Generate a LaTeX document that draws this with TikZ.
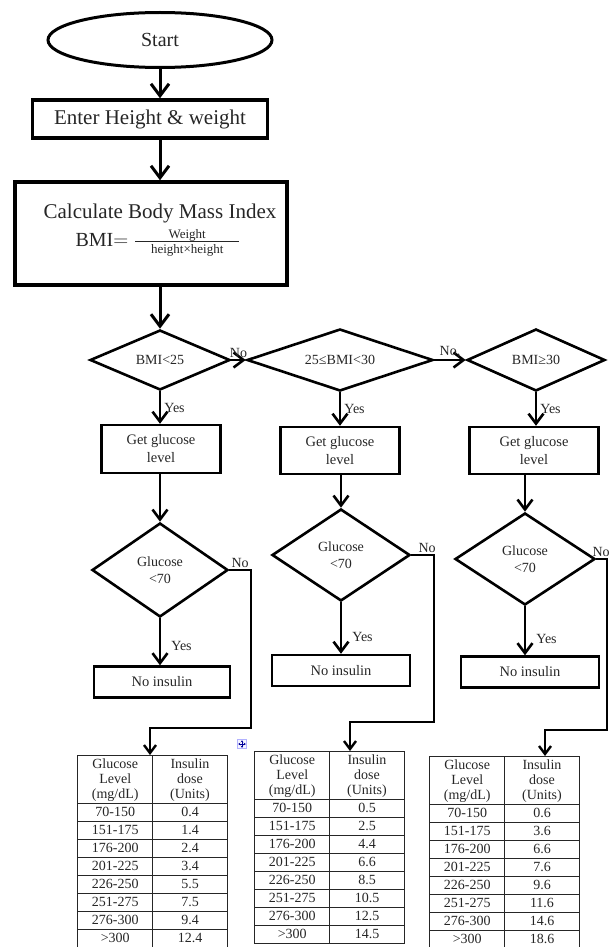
\documentclass[tikz,border=0pt]{standalone}
\usepackage{fontspec}
\setmainfont{Liberation Serif}
\usepackage{array}
\usetikzlibrary{arrows.meta,shapes.geometric}
\newcolumntype{C}{>{\centering\arraybackslash}p{73.6pt}}
\newcommand{\dosetab}[8]{%
  \setlength{\tabcolsep}{0pt}\setlength{\arrayrulewidth}{1.2pt}%
  \renewcommand{\arraystretch}{1.12}%
  \begin{tabular}{|C|C|}\hline
    Glucose\par Level\par (mg/dL) & Insulin\par dose\par (Units)\\\hline
    70-150  & #1\\\hline
    151-175 & #2\\\hline
    176-200 & #3\\\hline
    201-225 & #4\\\hline
    226-250 & #5\\\hline
    251-275 & #6\\\hline
    276-300 & #7\\\hline
    >300    & #8\\\hline
  \end{tabular}}
\tikzset{
  bigflow/.style={line width=3pt,-{Straight Barb[length=12pt,width=18pt]}},
  flow/.style={line width=2.6pt,-{Straight Barb[length=10pt,width=15pt]}},
  tabflow/.style={line width=2.4pt,line join=miter,-{Straight Barb[length=8pt,width=12pt]}},
  terminal/.style={draw,ellipse,line width=3pt,inner sep=0pt,font=\fontsize{20}{22}\selectfont},
  bigbox/.style={draw,line width=3.4pt,inner sep=0pt},
  bigtext/.style={inner sep=0pt,font=\fontsize{21}{24}\selectfont},
  decision/.style={draw,diamond,line width=2.6pt,inner sep=0pt,align=center,font=\fontsize{14}{17}\selectfont},
  process/.style={draw,line width=2.4pt,inner sep=0pt,align=center,font=\fontsize{14.5}{18}\selectfont},
  lbl/.style={inner sep=1pt,font=\fontsize{14}{16}\selectfont},
  dosetable/.style={anchor=north west,inner sep=0pt,font=\fontsize{14}{15}\selectfont}
}

\begin{document}
\begin{tikzpicture}[x=1pt,y=-1pt,text=black!85]
    \useasboundingbox (0,0) rectangle (614,947);

    % start and BMI
    \node[terminal,minimum width=224pt,minimum height=55pt] (start) at (160,40) {Start};
    \node[bigbox,bigtext,minimum width=235pt,minimum height=38pt] (enter) at (150,119) {Enter Height \& weight};
    \node[bigbox,minimum width=272pt,minimum height=103pt] (bmi) at (151,233.5) {};
    \node[bigtext] (calc) at (160,213) {Calculate Body Mass Index};
    \node[inner sep=0pt,font=\fontsize{20}{22}\selectfont] (formula) at (158,243)
      {BMI$=\frac{\makebox[104pt]{\fontsize{13}{14}\selectfont Weight}}{\makebox[104pt]{\fontsize{13}{14}\selectfont height×height}}$};

    \draw[bigflow] (start.south) -- (start.south |- enter.north);
    \draw[bigflow] (enter.south -| start.south) -- (bmi.north -| start.south);

    % BMI classes
    \node[decision,aspect=3,minimum width=140pt,minimum height=60pt] (d1) at (160,360) {BMI<25};
    \node[decision,aspect=3,minimum width=186pt,minimum height=62pt] (d2) at (340,360) {25≤BMI<30};
    \node[decision,aspect=3,minimum width=138pt,minimum height=62pt] (d3) at (536,360) {BMI≥30};

    \draw[bigflow] (bmi.south -| start.south) -- (d1.north);
    \draw[flow] (d1.east) -- (d2.west) node[lbl,midway,above] {No};
    \draw[flow] (d2.east) -- (d3.west) node[lbl,midway,above] {No,};

    % glucose level
    \node[process,minimum width=119pt,minimum height=48pt] (g1) at (161,449) {Get glucose\\level};
    \node[process,minimum width=119pt,minimum height=47pt] (g2) at (340,450.5) {Get glucose\\level};
    \node[process,minimum width=129pt,minimum height=47pt] (g3) at (534,450.5) {Get glucose\\level};

    \draw[flow] (d1.south) -- (d1.south |- g1.north) node[lbl,midway,right,xshift=2pt] {Yes};
    \draw[flow] (d2.south) -- (d2.south |- g2.north) node[lbl,midway,right,xshift=2pt] {Yes};
    \draw[flow] (d3.south) -- (d3.south |- g3.north) node[lbl,midway,right,xshift=2pt] {Yes};

    \node[decision,aspect=1.5,minimum width=136pt,minimum height=94pt] (gd1) at (160,570) {Glucose\\<70};
    \node[decision,aspect=1.5,minimum width=138pt,minimum height=92pt] (gd2) at (341,555) {Glucose\\<70};
    \node[decision,aspect=1.5,minimum width=140pt,minimum height=92pt] (gd3) at (525,559) {Glucose\\<70};

    \draw[flow] (g1.south -| gd1.north) -- (gd1.north);
    \draw[flow] (g2.south -| gd2.north) -- (gd2.north);
    \draw[flow] (g3.south -| gd3.north) -- (gd3.north);

    \node[process,minimum width=136pt,minimum height=31pt] (n1) at (162,682) {No insulin};
    \node[process,minimum width=138pt,minimum height=31pt] (n2) at (341,670.5) {No insulin};
    \node[process,minimum width=138pt,minimum height=31pt] (n3) at (530,672) {No insulin};

    \draw[flow] (gd1.south) -- (gd1.south |- n1.north) node[lbl,midway,right,xshift=9pt,yshift=-4pt] {Yes};
    \draw[flow] (gd2.south) -- (gd2.south |- n2.north) node[lbl,midway,right,xshift=9pt,yshift=-9pt] {Yes};
    \draw[flow] (gd3.south) -- (gd3.south |- n3.north) node[lbl,midway,right,xshift=9pt,yshift=-8pt] {Yes};

    % dose tables
    \node[dosetable] (tab1) at (77,755) {\dosetab{0.4}{1.4}{2.4}{3.4}{5.5}{7.5}{9.4}{12.4}};
    \node[dosetable] (tab2) at (254,751) {\dosetab{0.5}{2.5}{4.4}{6.6}{8.5}{10.5}{12.5}{14.5}};
    \node[dosetable] (tab3) at (429,756) {\dosetab{0.6}{3.6}{6.6}{7.6}{9.6}{11.6}{14.6}{18.6}};

    \coordinate (c1) at (251,728);
    \coordinate (e1) at (150,728);
    \coordinate (c2) at (434,722);
    \coordinate (e2) at (350,722);
    \coordinate (c3) at (607,730);
    \coordinate (e3) at (545,730);

    \draw[tabflow] (gd1.east) node[lbl,above right] {No} -| (c1) -- (e1) -- (e1 |- tab1.north);
    \draw[tabflow] (gd2.east) node[lbl,above right,xshift=5pt] {No} -| (c2) -- (e2) -- (e2 |- tab2.north);
    \draw[tabflow] (gd3.east) node[lbl,above right,xshift=-6pt] {No} -| (c3) -- (e3) -- (e3 |- tab3.north);

    % table move handle
    \node[draw=blue!30,fill=blue!4,line width=0.5pt,minimum size=9pt,inner sep=0pt] (grip) at (242,744) {};
    \draw[blue!60!black,line width=0.7pt,{Stealth[length=2pt,width=2.6pt]}-{Stealth[length=2pt,width=2.6pt]}]
      ([xshift=1pt]grip.west) -- ([xshift=-1pt]grip.east);
    \draw[blue!60!black,line width=0.7pt,{Stealth[length=2pt,width=2.6pt]}-{Stealth[length=2pt,width=2.6pt]}]
      ([yshift=-1pt]grip.north) -- ([yshift=1pt]grip.south);
\end{tikzpicture}
\end{document}
